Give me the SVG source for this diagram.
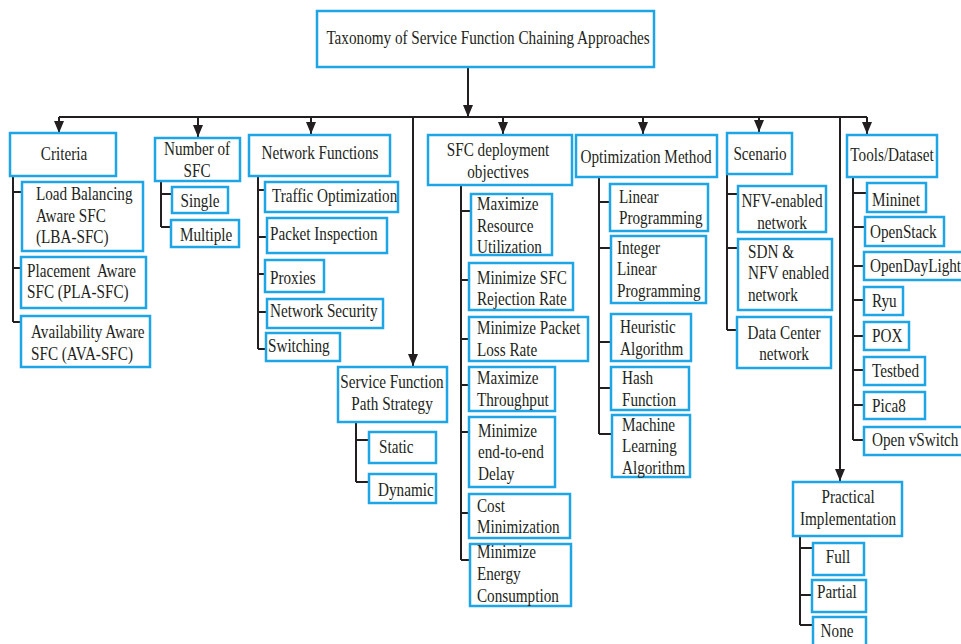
<svg xmlns="http://www.w3.org/2000/svg" width="961" height="644" viewBox="0 0 961 644" font-family="'Liberation Serif', 'Times New Roman', Times, 'DejaVu Serif', serif">
<style>
.b{fill:#fff;stroke:#1ea5e6;stroke-width:2.5}
.ln{fill:none;stroke:#231f20;stroke-width:2}
text{font-family:'Liberation Serif','Times New Roman',Times,'DejaVu Serif',serif;font-size:19px;fill:#231f20;transform-box:fill-box;transform:scaleX(0.8)}
.c{text-anchor:middle;transform-origin:center}
.l{text-anchor:start;transform-origin:left center}
</style>
<defs>
<marker id="ah" viewBox="0 0 12 10" refX="12" refY="5" markerWidth="12" markerHeight="10" markerUnits="userSpaceOnUse" orient="auto">
<path d="M0,0 L12,5 L0,10 z" fill="#231f20"/>
</marker>
</defs>
<rect width="961" height="644" fill="#fff"/>
<g id="connectors">
<path class="ln" d="M468,67 V117" marker-end="url(#ah)"/>
<path class="ln" d="M59,117 H867"/>
<path class="ln" d="M59,117 V133" marker-end="url(#ah)"/>
<path class="ln" d="M198,117 V137" marker-end="url(#ah)"/>
<path class="ln" d="M311,117 V134" marker-end="url(#ah)"/>
<path class="ln" d="M503,117 V134" marker-end="url(#ah)"/>
<path class="ln" d="M643,117 V134" marker-end="url(#ah)"/>
<path class="ln" d="M759,117 V132" marker-end="url(#ah)"/>
<path class="ln" d="M867,117 V134" marker-end="url(#ah)"/>
<path class="ln" d="M413,117 V366" marker-end="url(#ah)"/>
<path class="ln" d="M840,117 V481" marker-end="url(#ah)"/>
<path class="ln" d="M13,176 V322 M13,192 H22 M13,268 H21 M13,322 H21"/>
<path class="ln" d="M161,181 V227 M161,194 H172 M161,227 H171"/>
<path class="ln" d="M258,176 V349 M258,190 H265 M258,237 H267 M258,274 H265 M258,312 H267 M258,349 H266"/>
<path class="ln" d="M356,422 V482 M356,440 H369 M356,482 H369"/>
<path class="ln" d="M461,185 V560 M461,211 H471 M461,280 H469 M461,339 H469 M461,385 H469 M461,432 H469 M461,513 H469 M461,560 H470"/>
<path class="ln" d="M599,177 V434 M599,202 H610 M599,248 H611 M599,342 H611 M599,388 H611 M599,434 H612"/>
<path class="ln" d="M727,174 V330 M727,194 H738 M727,248 H738 M727,330 H737"/>
<path class="ln" d="M853,177 V440 M853,193 H867 M853,227 H865 M853,266 H864 M853,300 H864 M853,336 H864 M853,370 H864 M853,405 H864 M853,440 H864"/>
<path class="ln" d="M800,536 V625 M800,548 H813 M800,595 H812 M800,625 H813"/>
</g>
<g id="title"><rect class="b" x="317" y="11" width="337" height="56"/><text class="c" x="488" y="44">Taxonomy of Service Function Chaining Approaches</text></g>
<g id="criteria"><rect class="b" x="10" y="133" width="106" height="43"/><text class="c" x="64" y="160">Criteria</text></g>
<g id="number-of-sfc"><rect class="b" x="155" y="138" width="85" height="43"/><text class="c" x="197" y="155">Number of<tspan x="197" y="177">SFC</tspan></text></g>
<g id="network-functions"><rect class="b" x="249" y="135" width="141" height="41"/><text class="c" x="320" y="159">Network Functions</text></g>
<g id="sfc-deployment"><rect class="b" x="428" y="135" width="144" height="50"/><text class="c" x="498" y="156">SFC deployment<tspan x="498" y="178">objectives</tspan></text></g>
<g id="optimization-method"><rect class="b" x="576" y="135" width="141" height="42"/><text class="c" x="646" y="163">Optimization Method</text></g>
<g id="scenario"><rect class="b" x="727" y="133" width="65" height="41"/><text class="c" x="760" y="160">Scenario</text></g>
<g id="tools-dataset"><rect class="b" x="847" y="135" width="90" height="42"/><text class="c" x="892" y="161">Tools/Dataset</text></g>
<g id="lba-sfc"><rect class="b" x="22" y="182" width="121" height="69"/><text class="l" x="36" y="200">Load Balancing<tspan x="36" y="222">Aware SFC</tspan><tspan x="36" y="243">(LBA-SFC)</tspan></text></g>
<g id="pla-sfc"><rect class="b" x="21" y="257" width="125" height="51"/><text class="l" x="27" y="277" xml:space="preserve">Placement  Aware<tspan x="27" y="298">SFC (PLA-SFC)</tspan></text></g>
<g id="ava-sfc"><rect class="b" x="21" y="316" width="129" height="51"/><text class="l" x="31" y="338">Availability Aware<tspan x="31" y="360">SFC (AVA-SFC)</tspan></text></g>
<g id="single"><rect class="b" x="172" y="187" width="56" height="26"/><text class="c" x="200" y="207">Single</text></g>
<g id="multiple"><rect class="b" x="171" y="220" width="68" height="27"/><text class="l" x="180" y="241">Multiple</text></g>
<g id="traffic-optimization"><rect class="b" x="265" y="182" width="133" height="30"/><text class="l" x="272" y="202">Traffic Optimization</text></g>
<g id="packet-inspection"><rect class="b" x="267" y="218" width="120" height="35"/><text class="l" x="270" y="240">Packet Inspection</text></g>
<g id="proxies"><rect class="b" x="265" y="260" width="59" height="32"/><text class="l" x="270" y="284">Proxies</text></g>
<g id="network-security"><rect class="b" x="267" y="299" width="116" height="29"/><text class="l" x="270" y="317">Network Security</text></g>
<g id="switching"><rect class="b" x="266" y="333" width="74" height="28"/><text class="l" x="268" y="352">Switching</text></g>
<g id="sf-path-strategy"><rect class="b" x="338" y="367" width="109" height="55"/><text class="c" x="392" y="388">Service Function<tspan x="392" y="410">Path Strategy</tspan></text></g>
<g id="static"><rect class="b" x="369" y="432" width="67" height="31"/><text class="l" x="379" y="453">Static</text></g>
<g id="dynamic"><rect class="b" x="369" y="474" width="67" height="29"/><text class="l" x="378" y="496">Dynamic</text></g>
<g id="max-resource"><rect class="b" x="471" y="194" width="81" height="61"/><text class="l" x="477" y="210">Maximize<tspan x="477" y="232">Resource</tspan><tspan x="477" y="253">Utilization</tspan></text></g>
<g id="min-rejection"><rect class="b" x="469" y="263" width="104" height="47"/><text class="l" x="477" y="284">Minimize SFC<tspan x="477" y="305">Rejection Rate</tspan></text></g>
<g id="min-loss"><rect class="b" x="469" y="317" width="119" height="44"/><text class="l" x="477" y="334">Minimize Packet<tspan x="477" y="356">Loss Rate</tspan></text></g>
<g id="max-throughput"><rect class="b" x="469" y="367" width="86" height="44"/><text class="l" x="477" y="384">Maximize<tspan x="477" y="406">Throughput</tspan></text></g>
<g id="min-delay"><rect class="b" x="469" y="417" width="86" height="70"/><text class="l" x="478" y="437">Minimize<tspan x="478" y="458">end-to-end</tspan><tspan x="478" y="480">Delay</tspan></text></g>
<g id="cost-min"><rect class="b" x="469" y="494" width="101" height="44"/><text class="l" x="477" y="512">Cost<tspan x="477" y="533">Minimization</tspan></text></g>
<g id="min-energy"><rect class="b" x="470" y="544" width="101" height="62"/><text class="l" x="477" y="558">Minimize<tspan x="477" y="580">Energy</tspan><tspan x="477" y="602">Consumption</tspan></text></g>
<g id="linear-programming"><rect class="b" x="610" y="184" width="98" height="47"/><text class="l" x="619" y="203">Linear<tspan x="619" y="224">Programming</tspan></text></g>
<g id="ilp"><rect class="b" x="611" y="236" width="95" height="67"/><text class="l" x="617" y="254">Integer<tspan x="617" y="275">Linear</tspan><tspan x="617" y="297">Programming</tspan></text></g>
<g id="heuristic"><rect class="b" x="611" y="314" width="80" height="47"/><text class="l" x="620" y="333">Heuristic<tspan x="620" y="355">Algorithm</tspan></text></g>
<g id="hash"><rect class="b" x="611" y="367" width="78" height="43"/><text class="l" x="622" y="384">Hash<tspan x="622" y="406">Function</tspan></text></g>
<g id="ml"><rect class="b" x="612" y="415" width="78" height="62"/><text class="l" x="622" y="431">Machine<tspan x="622" y="452">Learning</tspan><tspan x="622" y="474">Algorithm</tspan></text></g>
<g id="nfv-enabled"><rect class="b" x="738" y="186" width="88" height="46"/><text class="c" x="782" y="207">NFV-enabled<tspan x="782" y="229">network</tspan></text></g>
<g id="sdn-nfv"><rect class="b" x="738" y="239" width="94" height="71"/><text class="l" x="748" y="258">SDN &amp;<tspan x="748" y="279">NFV enabled</tspan><tspan x="748" y="301">network</tspan></text></g>
<g id="data-center"><rect class="b" x="737" y="317" width="94" height="51"/><text class="c" x="784" y="339">Data Center<tspan x="784" y="360">network</tspan></text></g>
<g id="mininet"><rect class="b" x="867" y="183" width="59" height="29"/><text class="l" x="872" y="206">Mininet</text></g>
<g id="openstack"><rect class="b" x="865" y="217" width="79" height="29"/><text class="l" x="870" y="238">OpenStack</text></g>
<g id="opendaylight"><rect class="b" x="864" y="252" width="100" height="28"/><text class="l" x="870" y="272">OpenDayLight</text></g>
<g id="ryu"><rect class="b" x="864" y="287" width="39" height="28"/><text class="l" x="872" y="307">Ryu</text></g>
<g id="pox"><rect class="b" x="864" y="322" width="45" height="28"/><text class="l" x="872" y="342">POX</text></g>
<g id="testbed"><rect class="b" x="864" y="357" width="61" height="28"/><text class="l" x="872" y="377">Testbed</text></g>
<g id="pica8"><rect class="b" x="864" y="392" width="61" height="27"/><text class="l" x="872" y="412">Pica8</text></g>
<g id="open-vswitch"><rect class="b" x="864" y="427" width="100" height="28"/><text class="l" x="872" y="446">Open vSwitch</text></g>
<g id="practical-implementation"><rect class="b" x="793" y="482" width="109" height="54"/><text class="c" x="848" y="503">Practical<tspan x="848" y="525">Implementation</tspan></text></g>
<g id="full"><rect class="b" x="813" y="543" width="51" height="32"/><text class="c" x="838" y="563">Full</text></g>
<g id="partial"><rect class="b" x="812" y="580" width="54" height="32"/><text class="l" x="817" y="598">Partial</text></g>
<g id="none"><rect class="b" x="813" y="617" width="53" height="30"/><text class="c" x="837" y="637">None</text></g>
</svg>
